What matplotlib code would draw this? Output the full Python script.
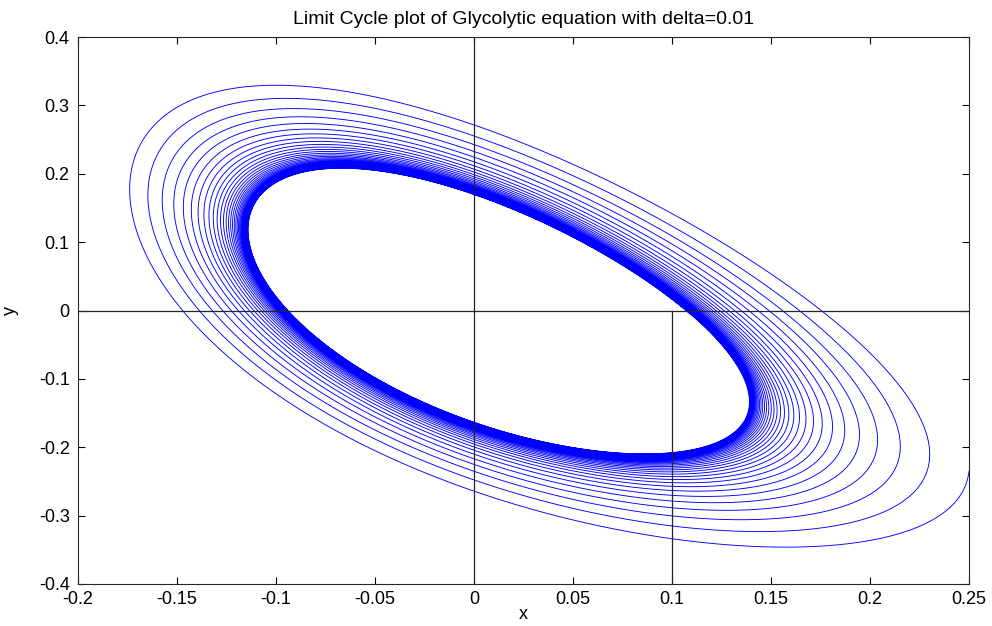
import numpy as np
import matplotlib
matplotlib.use("Agg")
import matplotlib.pyplot as plt

plt.rcParams["font.family"] = ["Liberation Sans", "DejaVu Sans"]

# Glycolytic (Sel'kov) model: x' = -x + a*y + x^2*y,  y' = b - a*y - x^2*y
A = 0.12
B = 0.668
START = (0.25, -0.235)      # offset from the fixed point
T_END = 300.0
DT = 0.01

# reference lines drawn in the original figure
AXIS_X = [-0.2, 0.25]
AXIS_Y = [-0.4, 0.4]
EXTRA_X = 0.1
EXTRA_Y = [0.0, -0.4]

XTICKS = [-0.2, -0.15, -0.1, -0.05, 0, 0.05, 0.1, 0.15, 0.2, 0.25]
XTICKLABELS = ["-0.2", "-0.15", "-0.1", "-0.05", "0", "0.05", "0.1", "0.15", "0.2", "0.25"]
YTICKS = [-0.4, -0.3, -0.2, -0.1, 0, 0.1, 0.2, 0.3, 0.4]
YTICKLABELS = ["-0.4", "-0.3", "-0.2", "-0.1", "0", "0.1", "0.2", "0.3", "0.4"]


def rhs(s):
    x, y = s
    return np.array([-x + A * y + x * x * y, B - A * y - x * x * y])


xs, ys = B, B / (A + B * B)
s = np.array([xs + START[0], ys + START[1]])
traj = [s.copy()]
for i in range(int(T_END / DT)):
    k1 = rhs(s)
    k2 = rhs(s + DT / 2 * k1)
    k3 = rhs(s + DT / 2 * k2)
    k4 = rhs(s + DT * k3)
    s = s + DT / 6 * (k1 + 2 * k2 + 2 * k3 + k4)
    if i % 4 == 0:
        traj.append(s.copy())
traj = np.array(traj)
u = traj[:, 0] - xs
v = traj[:, 1] - ys

fig = plt.figure(figsize=(9.92, 6.26), dpi=100)
ax = fig.add_axes([78 / 992, 1 - 584 / 626, (969 - 78) / 992, (584 - 37) / 626])

ax.plot(u, v, color="#0000ff", lw=0.65)
ax.plot(AXIS_X, [0, 0], color="0.15", lw=0.9)
ax.plot([0, 0], AXIS_Y, color="0.15", lw=0.9)
ax.plot([EXTRA_X, EXTRA_X], EXTRA_Y, color="0.15", lw=0.9)

ax.set_xlim(AXIS_X)
ax.set_ylim(AXIS_Y)
ax.set_xticks(XTICKS)
ax.set_xticklabels(XTICKLABELS)
ax.set_yticks(YTICKS)
ax.set_yticklabels(YTICKLABELS)
ax.tick_params(direction="in", length=5, width=0.8, top=True, right=True,
               labelsize=13)
ax.tick_params(axis="x", pad=5)
ax.tick_params(axis="y", pad=6)
for sp in ax.spines.values():
    sp.set_linewidth(0.8)
    sp.set_color("0.15")

ax.set_title("Limit Cycle plot of Glycolytic equation with delta=0.01", fontsize=14, pad=9)
ax.set_xlabel("x", fontsize=13)
ax.xaxis.set_label_coords(0.5, -0.04)
ax.set_ylabel("y", fontsize=13, labelpad=14)

fig.savefig("out.png", dpi=100)
